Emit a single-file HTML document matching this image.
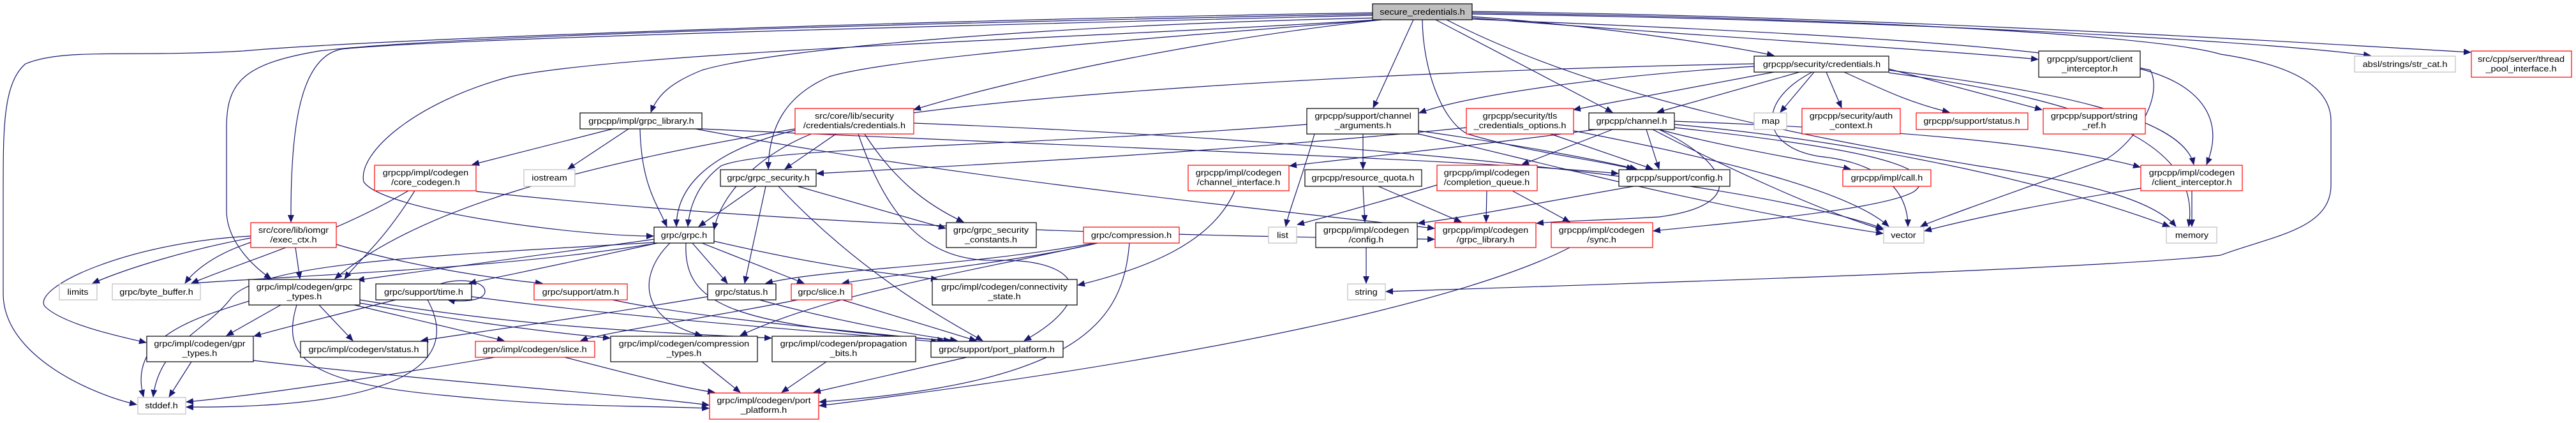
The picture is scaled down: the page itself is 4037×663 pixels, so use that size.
<!DOCTYPE html>
<html><head><meta charset="utf-8"><style>
html,body{margin:0;padding:0;background:#fff;}
svg{display:block;}
text{font-family:"Liberation Sans",sans-serif;font-size:12.5px;fill:#000;}
</style></head><body>
<svg width="4037" height="663" viewBox="0 0 4037 663" xmlns="http://www.w3.org/2000/svg">
<defs>
<marker id="a" markerUnits="userSpaceOnUse" markerWidth="12" markerHeight="10" refX="11" refY="5" orient="auto">
<path d="M0,0 L12,5 L0,10 z" fill="#191970"/>
</marker>
</defs>
<g fill="none" stroke="#191970" stroke-width="1.2" marker-end="url(#a)">
<!-- from secure_credentials.h -->
<path d="M2151,20 C1500,30 600,60 380,80 C200,90 100,75 40,100 C5,130 5,200 5,300 L5,460 C5,560 150,620 214,634"/>
<path d="M2151,22 C1500,35 700,55 500,80 C380,100 355,130 355,200 L355,330 C355,380 400,420 425,437"/>
<path d="M2151,24 C1500,40 700,60 535,77 C470,90 455,200 456,348"/>
<path d="M2160,31 C1700,60 1000,80 800,120 C650,160 560,240 570,285 C600,330 900,370 1024,370"/>
<path d="M2160,28 C1600,40 1200,80 1100,110 C1050,130 1030,150 1020,176"/>
<path d="M2165,31 C1800,60 1400,90 1300,120 C1230,150 1205,200 1204,265"/>
<path d="M2165,31 C1900,60 1600,120 1432,172"/>
<path d="M2215,31 L2152,169"/>
<path d="M2250,31 L2527,176"/>
<path d="M2229,31 C2230,110 2260,190 2300,210 C2400,240 2500,250 2560,265"/>
<path d="M2307,26 C2500,40 2700,70 2780,87"/>
<path d="M2267,31 C2500,150 2800,210 3100,260 C3300,290 3380,320 3410,355"/>
<path d="M2307,28 C2700,60 3000,75 3194,93"/>
<path d="M2307,22 C2900,30 3500,60 3715,87"/>
<path d="M2307,18 C2900,25 3500,60 3872,82"/>
<path d="M2307,30 C2800,50 3200,70 3370,110 C3390,150 3350,220 3300,250 C3100,320 3020,350 3010,355"/>
<path d="M2307,20 C3000,30 3400,60 3480,85 C3580,100 3653,130 3653,190 L3653,290 C3653,360 3560,370 3480,400 C3300,420 2700,440 2172,457"/>
<!-- grpcpp/security/credentials.h -->
<path d="M2749,104 C2500,120 2300,150 2224,177"/>
<path d="M2780,113 L2466,172"/>
<path d="M2820,113 L2597,176"/>
<path d="M2843,113 L2790,176"/>
<path d="M2862,113 L2886,169"/>
<path d="M2890,113 C2950,140 2990,160 3055,176"/>
<path d="M2960,108 L3200,172"/>
<path d="M2960,110 C3200,140 3420,180 3438,258"/>
<path d="M2749,100 C2200,110 1500,150 1300,200 C1200,230 1130,300 1119,360"/>
<path d="M2960,114 C3300,160 3450,230 3430,355"/>
<path d="M2840,113 C2750,160 2760,230 2850,245 C2950,255 2990,300 2990,355"/>
<!-- grpcpp/channel.h -->
<path d="M2500,203 C2300,230 2100,250 2021,260"/>
<path d="M2527,203 L2385,258"/>
<path d="M2580,203 L2600,265"/>
<path d="M2600,203 C2700,230 2850,255 2900,265"/>
<path d="M2624,190 C2900,200 3200,220 3354,262"/>
<path d="M2624,195 C2900,220 3200,280 3400,355"/>
<path d="M2590,203 C2700,260 2850,330 2951,360"/>
<path d="M2600,203 C2700,250 2750,320 2600,340 C2500,346 2450,346 2408,350"/>
<path d="M2624,200 C2900,230 3050,260 3000,300 C2950,330 2700,350 2591,362"/>
<!-- channel_arguments -->
<path d="M2136,210 L2136,265"/>
<path d="M2048,195 C1600,230 1200,230 1130,260 C1090,290 1080,330 1078,355"/>
<path d="M2223,205 C2400,230 2500,250 2565,265"/>
<path d="M2223,210 C2400,250 2650,320 2951,366"/>
<path d="M2060,210 C2040,280 2020,330 2015,355"/>
<!-- tls -->
<path d="M2298,200 C1900,240 1500,260 1280,272"/>
<path d="M2430,210 L2590,265"/>
<path d="M2466,205 C2700,250 2900,300 2960,355"/>
<!-- grpc_library impl -->
<path d="M960,202 L740,258"/>
<path d="M985,202 L890,265"/>
<path d="M1003,202 C1005,290 1030,320 1045,355"/>
<path d="M1090,202 C1500,280 2000,330 2248,358"/>
<path d="M1100,202 C1700,230 2300,250 2536,272"/>
<!-- core creds -->
<path d="M1310,210 L1230,265"/>
<path d="M1246,204 C1100,240 1060,300 1060,355"/>
<path d="M1355,210 C1400,280 1450,320 1510,348"/>
<path d="M1345,210 C1390,340 1450,410 1560,408 C1700,405 1720,470 1605,534"/>
<path d="M1432,193 C2000,215 2700,270 2951,358"/>
<path d="M1246,202 C900,260 650,330 525,437"/>
<!-- core_codegen -->
<path d="M650,299 C600,380 560,410 540,437"/>
<path d="M640,299 C520,370 380,410 300,444"/>
<path d="M746,300 C1300,360 1900,370 2248,375"/>
<!-- grpc_security -->
<path d="M1185,292 L1095,355"/>
<path d="M1200,292 L1167,444"/>
<path d="M1250,292 L1482,358"/>
<path d="M1220,292 C1350,430 1480,500 1540,534"/>
<!-- grpc.h -->
<path d="M1025,375 C850,400 700,420 560,439"/>
<path d="M1030,381 C800,420 500,430 300,444"/>
<path d="M1085,381 L1140,444"/>
<path d="M1100,381 L1260,444"/>
<path d="M1030,381 C900,410 800,430 735,444"/>
<path d="M1119,378 C1300,420 1400,430 1470,438"/>
<path d="M1050,381 C1000,430 1000,500 1100,526"/>
<path d="M1075,381 C1070,480 1150,510 1490,534"/>
<path d="M1025,380 C700,400 400,410 360,470 C320,520 250,540 240,622"/>
<!-- resource quota / cq / config -->
<path d="M2136,292 L2139,348"/>
<path d="M2160,292 L2290,348"/>
<path d="M2252,290 C2150,320 2080,340 2033,352"/>
<path d="M2330,299 L2329,348"/>
<path d="M2370,299 L2460,348"/>
<path d="M2560,292 C2400,320 2300,340 2222,350"/>
<path d="M2141,388 L2141,444"/>
<path d="M2460,388 C2300,470 1900,560 1284,636"/>
<path d="M1935,299 C1900,380 1800,420 1689,447"/>
<!-- compression -->
<path d="M1720,381 C1600,410 1400,430 1320,444"/>
<path d="M1720,381 C1500,430 1300,460 1160,526"/>
<path d="M1770,381 C1760,500 1700,600 1284,630"/>
<path d="M1715,381 C1500,420 1300,420 1200,444"/>
<!-- exec_ctx -->
<path d="M393,373 C300,390 200,420 145,444"/>
<path d="M393,380 C330,400 300,430 290,444"/>
<path d="M463,388 L470,437"/>
<path d="M527,383 C650,420 800,440 850,444"/>
<path d="M393,370 C200,380 50,450 70,480 C100,510 200,530 229,537"/>
<!-- grpc_types -->
<path d="M440,478 L355,526"/>
<path d="M500,478 L553,534"/>
<path d="M555,478 L790,534"/>
<path d="M564,475 C700,500 850,520 956,530"/>
<path d="M564,470 C800,510 1000,520 1209,530"/>
<path d="M390,472 C300,500 200,530 225,622"/>
<path d="M465,478 C440,560 480,600 700,620 C900,640 1000,635 1111,640"/>
<!-- time -->
<path d="M620,470 C500,500 440,515 398,527"/>
<path d="M670,470 C720,560 650,640 292,638"/>
<path d="M739,465 C1000,500 1300,520 1470,536"/>
<path d="M690,445 C720,435 760,440 760,457 C760,472 720,474 702,470"/>
<path d="M960,470 C1100,500 1350,520 1480,534"/>
<path d="M1190,470 C1300,500 1400,520 1500,534"/>
<path d="M1109,465 C900,500 750,520 660,534"/>
<path d="M1250,470 C1100,500 950,520 910,534"/>
<path d="M1320,470 L1530,534"/>
<path d="M300,567 L265,622"/>
<path d="M397,565 C700,600 1000,620 1111,635"/>
<path d="M775,560 C600,590 400,620 292,630"/>
<path d="M885,560 C1000,590 1080,610 1120,615"/>
<path d="M1100,567 L1160,615"/>
<path d="M1295,567 L1225,615"/>
<path d="M1515,560 L1275,615"/>
<!-- interceptors -->
<path d="M3435,299 L3435,355"/>
<path d="M3355,295 C3200,320 3100,340 3016,362"/>
<path d="M3354,108 C3440,130 3490,180 3458,258"/>
</g>
<g stroke-width="1.2">
<!-- boxes -->
<rect x="2151" y="6" width="156" height="25" fill="#bfbfbf" stroke="#000"/>
<rect x="2749" y="88" width="211" height="25" fill="#fff" stroke="#000"/>
<rect x="3195" y="80" width="159" height="41" fill="#fff" stroke="#000"/>
<rect x="3690" y="88" width="158" height="25" fill="#fff" stroke="#bfbfbf"/>
<rect x="3873" y="80" width="157" height="41" fill="#fff" stroke="#f00"/>
<rect x="909" y="177" width="191" height="25" fill="#fff" stroke="#000"/>
<rect x="1246" y="170" width="186" height="40" fill="#fff" stroke="#f00"/>
<rect x="2048" y="170" width="175" height="40" fill="#fff" stroke="#000"/>
<rect x="2298" y="170" width="168" height="40" fill="#fff" stroke="#f00"/>
<rect x="2490" y="177" width="134" height="26" fill="#fff" stroke="#000"/>
<rect x="2749" y="177" width="51" height="26" fill="#fff" stroke="#bfbfbf"/>
<rect x="2824" y="170" width="154" height="40" fill="#fff" stroke="#f00"/>
<rect x="3003" y="177" width="175" height="26" fill="#fff" stroke="#f00"/>
<rect x="3202" y="170" width="160" height="40" fill="#fff" stroke="#f00"/>
<rect x="587" y="259" width="159" height="40" fill="#fff" stroke="#f00"/>
<rect x="821" y="266" width="80" height="26" fill="#fff" stroke="#bfbfbf"/>
<rect x="1129" y="266" width="150" height="26" fill="#fff" stroke="#000"/>
<rect x="1862" y="259" width="158" height="40" fill="#fff" stroke="#f00"/>
<rect x="2045" y="266" width="183" height="26" fill="#fff" stroke="#000"/>
<rect x="2252" y="259" width="157" height="40" fill="#fff" stroke="#f00"/>
<rect x="2537" y="266" width="174" height="26" fill="#fff" stroke="#000"/>
<rect x="2888" y="266" width="138" height="26" fill="#fff" stroke="#f00"/>
<rect x="3355" y="259" width="159" height="40" fill="#fff" stroke="#f00"/>
<rect x="393" y="349" width="134" height="39" fill="#fff" stroke="#f00"/>
<rect x="1025" y="356" width="94" height="25" fill="#fff" stroke="#000"/>
<rect x="1483" y="349" width="141" height="39" fill="#fff" stroke="#000"/>
<rect x="1698" y="356" width="150" height="25" fill="#fff" stroke="#f00"/>
<rect x="1988" y="356" width="44" height="25" fill="#fff" stroke="#bfbfbf"/>
<rect x="2062" y="349" width="159" height="39" fill="#fff" stroke="#000"/>
<rect x="2249" y="349" width="158" height="39" fill="#fff" stroke="#f00"/>
<rect x="2431" y="349" width="159" height="39" fill="#fff" stroke="#f00"/>
<rect x="2952" y="356" width="63" height="25" fill="#fff" stroke="#bfbfbf"/>
<rect x="3395" y="356" width="79" height="25" fill="#fff" stroke="#bfbfbf"/>
<rect x="93" y="445" width="59" height="25" fill="#fff" stroke="#bfbfbf"/>
<rect x="176" y="445" width="138" height="25" fill="#fff" stroke="#bfbfbf"/>
<rect x="390" y="438" width="174" height="40" fill="#fff" stroke="#000"/>
<rect x="589" y="445" width="150" height="25" fill="#fff" stroke="#000"/>
<rect x="837" y="445" width="146" height="25" fill="#fff" stroke="#f00"/>
<rect x="1109" y="445" width="107" height="25" fill="#fff" stroke="#000"/>
<rect x="1240" y="445" width="95" height="25" fill="#fff" stroke="#f00"/>
<rect x="1461" y="438" width="227" height="40" fill="#fff" stroke="#000"/>
<rect x="2112" y="445" width="59" height="25" fill="#fff" stroke="#bfbfbf"/>
<rect x="230" y="527" width="167" height="40" fill="#fff" stroke="#000"/>
<rect x="471" y="535" width="199" height="25" fill="#fff" stroke="#000"/>
<rect x="745" y="535" width="187" height="25" fill="#fff" stroke="#f00"/>
<rect x="957" y="527" width="230" height="40" fill="#fff" stroke="#000"/>
<rect x="1210" y="527" width="225" height="40" fill="#fff" stroke="#000"/>
<rect x="1459" y="535" width="207" height="25" fill="#fff" stroke="#000"/>
<rect x="216" y="623" width="75" height="26" fill="#fff" stroke="#bfbfbf"/>
<rect x="1112" y="616" width="171" height="41" fill="#fff" stroke="#f00"/>
</g>
<g text-anchor="middle">
<text transform="translate(2229,23) scale(1.16,1)">secure_credentials.h</text>
<text transform="translate(2855,105) scale(1.16,1)">grpcpp/security/credentials.h</text>
<text transform="translate(3275,97) scale(1.16,1)">grpcpp/support/client</text>
<text transform="translate(3275,112) scale(1.16,1)">_interceptor.h</text>
<text transform="translate(3769,105) scale(1.16,1)">absl/strings/str_cat.h</text>
<text transform="translate(3951,97) scale(1.16,1)">src/cpp/server/thread</text>
<text transform="translate(3951,112) scale(1.16,1)">_pool_interface.h</text>
<text transform="translate(1005,194) scale(1.16,1)">grpcpp/impl/grpc_library.h</text>
<text transform="translate(1339,186) scale(1.16,1)">src/core/lib/security</text>
<text transform="translate(1339,201) scale(1.16,1)">/credentials/credentials.h</text>
<text transform="translate(2136,186) scale(1.16,1)">grpcpp/support/channel</text>
<text transform="translate(2136,201) scale(1.16,1)">_arguments.h</text>
<text transform="translate(2382,186) scale(1.16,1)">grpcpp/security/tls</text>
<text transform="translate(2382,201) scale(1.16,1)">_credentials_options.h</text>
<text transform="translate(2557,194) scale(1.16,1)">grpcpp/channel.h</text>
<text transform="translate(2775,194) scale(1.16,1)">map</text>
<text transform="translate(2901,186) scale(1.16,1)">grpcpp/security/auth</text>
<text transform="translate(2901,201) scale(1.16,1)">_context.h</text>
<text transform="translate(3090,194) scale(1.16,1)">grpcpp/support/status.h</text>
<text transform="translate(3282,186) scale(1.16,1)">grpcpp/support/string</text>
<text transform="translate(3282,201) scale(1.16,1)">_ref.h</text>
<text transform="translate(667,275) scale(1.16,1)">grpcpp/impl/codegen</text>
<text transform="translate(667,290) scale(1.16,1)">/core_codegen.h</text>
<text transform="translate(861,283) scale(1.16,1)">iostream</text>
<text transform="translate(1204,283) scale(1.16,1)">grpc/grpc_security.h</text>
<text transform="translate(1941,275) scale(1.16,1)">grpcpp/impl/codegen</text>
<text transform="translate(1941,290) scale(1.16,1)">/channel_interface.h</text>
<text transform="translate(2136,283) scale(1.16,1)">grpcpp/resource_quota.h</text>
<text transform="translate(2330,275) scale(1.16,1)">grpcpp/impl/codegen</text>
<text transform="translate(2330,290) scale(1.16,1)">/completion_queue.h</text>
<text transform="translate(2624,283) scale(1.16,1)">grpcpp/support/config.h</text>
<text transform="translate(2957,283) scale(1.16,1)">grpcpp/impl/call.h</text>
<text transform="translate(3435,275) scale(1.16,1)">grpcpp/impl/codegen</text>
<text transform="translate(3435,290) scale(1.16,1)">/client_interceptor.h</text>
<text transform="translate(460,365) scale(1.16,1)">src/core/lib/iomgr</text>
<text transform="translate(460,380) scale(1.16,1)">/exec_ctx.h</text>
<text transform="translate(1072,373) scale(1.16,1)">grpc/grpc.h</text>
<text transform="translate(1553,365) scale(1.16,1)">grpc/grpc_security</text>
<text transform="translate(1553,380) scale(1.16,1)">_constants.h</text>
<text transform="translate(1773,373) scale(1.16,1)">grpc/compression.h</text>
<text transform="translate(2010,373) scale(1.16,1)">list</text>
<text transform="translate(2141,365) scale(1.16,1)">grpcpp/impl/codegen</text>
<text transform="translate(2141,380) scale(1.16,1)">/config.h</text>
<text transform="translate(2328,365) scale(1.16,1)">grpcpp/impl/codegen</text>
<text transform="translate(2328,380) scale(1.16,1)">/grpc_library.h</text>
<text transform="translate(2510,365) scale(1.16,1)">grpcpp/impl/codegen</text>
<text transform="translate(2510,380) scale(1.16,1)">/sync.h</text>
<text transform="translate(2983,373) scale(1.16,1)">vector</text>
<text transform="translate(3435,373) scale(1.16,1)">memory</text>
<text transform="translate(122,462) scale(1.16,1)">limits</text>
<text transform="translate(245,462) scale(1.16,1)">grpc/byte_buffer.h</text>
<text transform="translate(477,454) scale(1.16,1)">grpc/impl/codegen/grpc</text>
<text transform="translate(477,469) scale(1.16,1)">_types.h</text>
<text transform="translate(664,462) scale(1.16,1)">grpc/support/time.h</text>
<text transform="translate(910,462) scale(1.16,1)">grpc/support/atm.h</text>
<text transform="translate(1162,462) scale(1.16,1)">grpc/status.h</text>
<text transform="translate(1287,462) scale(1.16,1)">grpc/slice.h</text>
<text transform="translate(1574,454) scale(1.16,1)">grpc/impl/codegen/connectivity</text>
<text transform="translate(1574,469) scale(1.16,1)">_state.h</text>
<text transform="translate(2141,462) scale(1.16,1)">string</text>
<text transform="translate(313,543) scale(1.16,1)">grpc/impl/codegen/gpr</text>
<text transform="translate(313,558) scale(1.16,1)">_types.h</text>
<text transform="translate(570,552) scale(1.16,1)">grpc/impl/codegen/status.h</text>
<text transform="translate(838,552) scale(1.16,1)">grpc/impl/codegen/slice.h</text>
<text transform="translate(1072,543) scale(1.16,1)">grpc/impl/codegen/compression</text>
<text transform="translate(1072,558) scale(1.16,1)">_types.h</text>
<text transform="translate(1322,543) scale(1.16,1)">grpc/impl/codegen/propagation</text>
<text transform="translate(1322,558) scale(1.16,1)">_bits.h</text>
<text transform="translate(1562,552) scale(1.16,1)">grpc/support/port_platform.h</text>
<text transform="translate(253,640) scale(1.16,1)">stddef.h</text>
<text transform="translate(1197,632) scale(1.16,1)">grpc/impl/codegen/port</text>
<text transform="translate(1197,647) scale(1.16,1)">_platform.h</text>
</g>
</svg>
</body></html>
